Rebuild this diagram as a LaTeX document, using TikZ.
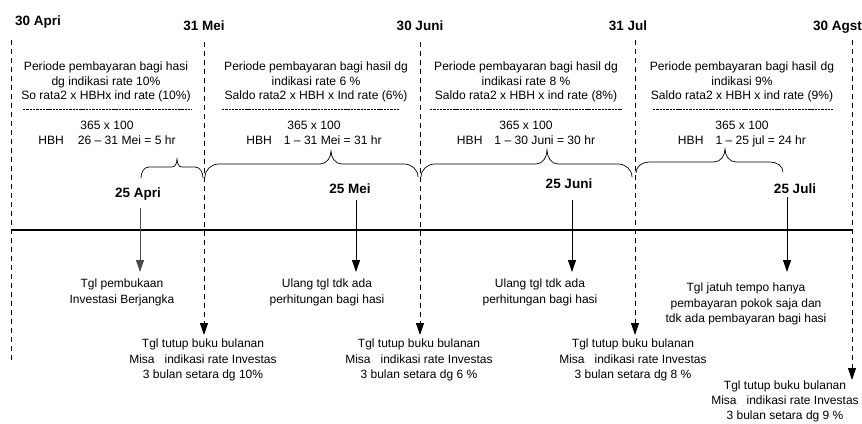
\documentclass[tikz,border=0pt]{standalone}
\usepackage{fontspec}
\setmainfont{Liberation Sans}
\usetikzlibrary{arrows.meta}
\begin{document}
\begin{tikzpicture}[x=1pt,y=-1pt,
  vline/.style={dash pattern=on 5pt off 4pt, line width=0.8pt},
  sepline/.style={dash pattern=on 2.4pt off 0.9pt, line width=0.6pt},
  timeline/.style={line width=1.6pt},
  datelbl/.style={font=\bfseries\fontsize{13.5}{16}\selectfont, inner sep=0pt},
  blk/.style={align=center, font=\fontsize{12.1}{14.5}\selectfont, inner sep=0pt},
  blkb/.style={align=center, font=\fontsize{12}{15.2}\selectfont, inner sep=0pt},
  arr/.style={-{Triangle[width=8pt,length=12pt]}, line width=0.9pt},
  brc/.style={line width=0.7pt}]
\useasboundingbox (0,0) rectangle (862,423);

% month-end labels
\node[datelbl, anchor=base west] (m1) at (15,25) {30 Apri};
\node[datelbl, anchor=base] (m2) at (204,30) {31 Mei};
\node[datelbl, anchor=base] (m3) at (420,30) {30 Juni};
\node[datelbl, anchor=base] (m4) at (628,30) {31 Jul};
\node[datelbl, anchor=base west] (m5) at (813,30) {30 Agst};

% vertical dashed lines
\coordinate (v1t) at (11,40);  \coordinate (v1b) at (11,360);
\coordinate (v2t) at (204,42); \coordinate (v2b) at (204,335);
\coordinate (v3t) at (420,42); \coordinate (v3b) at (420,335);
\coordinate (v4t) at (635,40); \coordinate (v4b) at (635,335);
\coordinate (v5t) at (852,40); \coordinate (v5b) at (852,380);
\draw[vline] (v1t) -- (v1b);
\draw[vline, arr] (v2t) -- (v2b);
\draw[vline, arr] (v3t) -- (v3b);
\draw[vline, arr] (v4t) -- (v4b);
\draw[vline, arr] (v5t) -- (v5b);

% timeline
\coordinate (tl1) at (11,230); \coordinate (tl2) at (852,230);
\draw[timeline] (tl1) -- (tl2);

% period blocks
\node[blk, anchor=north] (p1) at (106,62) {Periode pembayaran bagi hasi\\dg indikasi rate 10\%\\So rata2 x HBHx ind rate (10\%)};
\node[blk, anchor=north] (q1) at (107,121) {365 x 100\\HBH\hspace{14pt}26 -- 31 Mei = 5 hr};
\draw[sepline] (23,109) -- (192,109);

\node[blk, anchor=north] (p2) at (316,62) {Periode pembayaran bagi hasil dg\\indikasi rate 6 \%\\Saldo rata2 x HBH x Ind rate (6\%)};
\node[blk, anchor=north] (q2) at (314,121) {365 x 100\\HBH\hspace{12pt}1 -- 31 Mei = 31 hr};
\draw[sepline] (222,109) -- (400,109);

\node[blk, anchor=north] (p3) at (526,62) {Periode pembayaran bagi hasil dg\\indikasi rate 8 \%\\Saldo rata2 x HBH x ind rate (8\%)};
\node[blk, anchor=north] (q3) at (526,121) {365 x 100\\HBH\hspace{12pt}1 -- 30 Juni = 30 hr};
\draw[sepline] (430,109) -- (622,109);

\node[blk, anchor=north] (p4) at (742,62) {Periode pembayaran bagi hasil\hspace{4pt}dg\\indikasi 9\%\\Saldo rata2 x HBH x ind rate (9\%)};
\node[blk, anchor=north] (q4) at (742,121) {365 x 100\\HBH\hspace{12pt}1 -- 25 jul = 24 hr};
\draw[sepline] (653,109) -- (833,109);

% braces
\draw[brc] (141,178) to[out=90,in=180] (149,167) -- (172,167) to[out=0,in=-90] (177,158)
  to[out=-90,in=180] (182,167) -- (195,167) to[out=0,in=90] (203,178);
\draw[brc] (205,177) to[out=90,in=180] (219,164) -- (320,164) to[out=0,in=-90] (331,151)
  to[out=-90,in=180] (342,164) -- (404,164) to[out=0,in=90] (418,177);
\draw[brc] (421,177) to[out=90,in=180] (435,164) -- (536,164) to[out=0,in=-90] (547,150)
  to[out=-90,in=180] (558,164) -- (618,164) to[out=0,in=90] (632,177);
\draw[brc] (636,173) to[out=90,in=180] (649,162) -- (714,162) to[out=0,in=-90] (725,149)
  to[out=-90,in=180] (736,162) -- (770,162) to[out=0,in=90] (783,172);

% anniversary dates
\node[datelbl, anchor=base] (d1) at (138,197) {25 Apri};
\node[datelbl, anchor=base] (d2) at (350,193) {25 Mei};
\node[datelbl, anchor=base] (d3) at (569,188) {25 Juni};
\node[datelbl, anchor=base] (d4) at (795,193) {25 Juli};

% event texts
\node[blkb, anchor=north] (e1) at (122,279) {Tgl pembukaan\\Investasi Berjangka};
\node[blkb, anchor=north] (e2) at (327,279) {Ulang tgl tdk ada\\perhitungan bagi hasi};
\node[blkb, anchor=north] (e3) at (540,279) {Ulang tgl tdk ada\\perhitungan bagi hasi};
\node[blkb, anchor=north] (e4) at (746,283) {Tgl jatuh tempo hanya\\pembayaran pokok saja dan\\tdk ada pembayaran bagi hasi};

% arrows from dates
\coordinate (a1s) at (140,208); \coordinate (a1e) at (140,272);
\coordinate (a2s) at (356,200); \coordinate (a2e) at (356,272);
\coordinate (a3s) at (572,200); \coordinate (a3e) at (572,272);
\coordinate (a4s) at (787,197); \coordinate (a4e) at (787,272);
\draw[arr, draw=black!70] (a1s) -- (a1e);
\draw[arr] (a2s) -- (a2e);
\draw[arr] (a3s) -- (a3e);
\draw[arr] (a4s) -- (a4e);

% closing texts
\node[blkb, anchor=north] (c1) at (203,339) {Tgl tutup buku bulanan\\Misa\hspace{10pt}indikasi rate Investas\\3 bulan setara dg 10\%};
\node[blkb, anchor=north] (c2) at (419,339) {Tgl tutup buku bulanan\\Misa\hspace{10pt}indikasi rate Investas\\3 bulan setara dg 6 \%};
\node[blkb, anchor=north] (c3) at (633,339) {Tgl tutup buku bulanan\\Misa\hspace{10pt}indikasi rate Investas\\3 bulan setara dg 8 \%};
\node[blkb, anchor=north, font=\fontsize{12}{14.8}\selectfont] (c4) at (785,381) {Tgl tutup buku bulanan\\Misa\hspace{10pt}indikasi rate Investas\\3 bulan setara dg 9 \%};
\end{tikzpicture}
\end{document}
